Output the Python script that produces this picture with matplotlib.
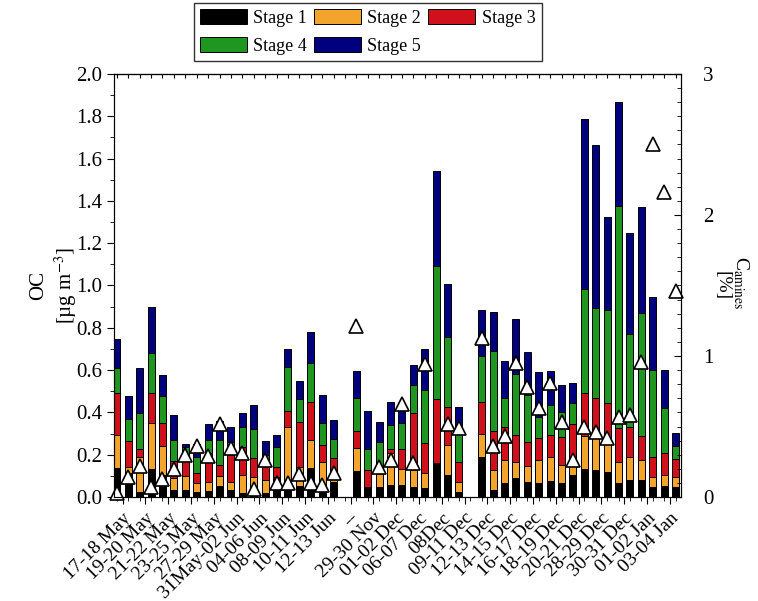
import numpy as np
import matplotlib
matplotlib.use("Agg")
import matplotlib.pyplot as plt
from matplotlib.patches import Patch

plt.rcParams['font.family'] = ['Liberation Serif', 'DejaVu Serif']
plt.rcParams['mathtext.fontset'] = 'stix'

# one label for each pair of samples
date_labels = ["17-18 May", "19-20 May", "21-22 May", "23-25 May", "27-29 May",
               "31May-02 Jun", "04-06 Jun", "08-09 Jun", "10-11 Jun", "12-13 Jun",
               "--", "29-30 Nov", "01-02 Dec", "06-07 Dec", "08Dec",
               "09-11 Dec", "12-13 Dec", "14-15 Dec", "16-17 Dec", "18-19 Dec",
               "20-21 Dec", "28-29 Dec", "30-31 Dec", "01-02 Jan", "03-04 Jan"]

# OC per stage [ug m-3], 50 sample slots (slots 20 and 31 are empty)
stage1 = [0.136, 0.112, 0.025, 0.131, 0.104, 0.033, 0.035, 0.025, 0.030, 0.050,
          0.033, 0.020, 0.015, 0.020, 0.088, 0.040, 0.050, 0.136, 0.050, 0.072,
          0.0, 0.124, 0.046, 0.049, 0.057, 0.057, 0.049, 0.044, 0.159, 0.106,
          0.025, 0.0, 0.191, 0.033, 0.065, 0.088, 0.072, 0.068, 0.076, 0.068,
          0.104, 0.131, 0.128, 0.120, 0.068, 0.080, 0.080, 0.046, 0.052, 0.046]
stage2 = [0.157, 0.031, 0.166, 0.220, 0.139, 0.057, 0.065, 0.043, 0.042, 0.050,
          0.039, 0.084, 0.081, 0.060, 0.005, 0.292, 0.093, 0.134, 0.117, 0.056,
          0.0, 0.106, 0.0, 0.061, 0.149, 0.074, 0.081, 0.069, 0.0, 0.142,
          0.047, 0.0, 0.105, 0.095, 0.110, 0.079, 0.075, 0.107, 0.112, 0.083,
          0.071, 0.157, 0.154, 0.153, 0.099, 0.111, 0.095, 0.050, 0.052, 0.050]
stage3 = [0.197, 0.122, 0.035, 0.139, 0.105, 0.080, 0.090, 0.044, 0.134, 0.050,
          0.127, 0.134, 0.087, 0.063, 0.050, 0.075, 0.212, 0.181, 0.078, 0.055,
          0.0, 0.082, 0.082, 0.030, 0.020, 0.095, 0.267, 0.141, 0.303, 0.179,
          0.095, 0.0, 0.154, 0.182, 0.157, 0.126, 0.115, 0.102, 0.105, 0.134,
          0.169, 0.202, 0.188, 0.170, 0.158, 0.141, 0.113, 0.095, 0.102, 0.084]
stage4 = [0.121, 0.102, 0.170, 0.189, 0.131, 0.100, 0.045, 0.078, 0.064, 0.120,
          0.061, 0.094, 0.137, 0.057, 0.095, 0.209, 0.108, 0.184, 0.105, 0.090,
          0.0, 0.155, 0.098, 0.120, 0.114, 0.122, 0.131, 0.252, 0.632, 0.328,
          0.134, 0.0, 0.215, 0.378, 0.135, 0.287, 0.220, 0.103, 0.142, 0.118,
          0.101, 0.492, 0.425, 0.441, 1.051, 0.439, 0.580, 0.409, 0.213, 0.061]
stage5 = [0.135, 0.112, 0.212, 0.218, 0.098, 0.118, 0.015, 0.060, 0.075, 0.090,
          0.072, 0.067, 0.117, 0.065, 0.055, 0.082, 0.086, 0.145, 0.130, 0.091,
          0.0, 0.129, 0.182, 0.093, 0.108, 0.062, 0.097, 0.196, 0.449, 0.251,
          0.123, 0.0, 0.219, 0.188, 0.176, 0.260, 0.202, 0.212, 0.161, 0.127,
          0.094, 0.804, 0.769, 0.438, 0.493, 0.476, 0.502, 0.344, 0.181, 0.063]

# C_amines [%]
c_amines = [0.03, 0.14, 0.22, 0.07, 0.13, 0.20, 0.30, 0.36, 0.29, 0.52,
            0.35, 0.31, 0.06, 0.26, 0.10, 0.10, 0.16, 0.10, 0.085, 0.17,
            np.nan, 1.21, np.nan, 0.215, 0.26, 0.66, 0.24, 0.94, np.nan, 0.52,
            0.49, np.nan, 1.13, 0.365, 0.43, 0.95, 0.78, 0.63, 0.81, 0.53,
            0.26, 0.50, 0.46, 0.42, 0.565, 0.585, 0.96, 2.50, 2.16, 1.46]

stages = [stage1, stage2, stage3, stage4, stage5]
names = ["Stage 1", "Stage 2", "Stage 3", "Stage 4", "Stage 5"]
colors = ["#000000", "#F2A42C", "#D0101A", "#1F961F", "#00007E"]

x = np.arange(len(stage1))

fig = plt.figure(figsize=(7.58, 6.01), dpi=100)
ax = fig.add_axes([0.150, 0.173, 0.748, 0.704])

bottom = np.zeros(len(x))
for vals, col in zip(stages, colors):
    vals = np.array(vals)
    ax.bar(x, vals, width=0.62, bottom=bottom, color=col,
           edgecolor="black", linewidth=0.7)
    bottom = bottom + vals

ax.set_xlim(-0.28, 49.45)
ax.set_ylim(0, 2.0)
ax.set_yticks(np.arange(0, 2.01, 0.2))
ax.set_yticks(np.arange(0, 2.0, 0.1), minor=True)
ax.yaxis.set_major_formatter(matplotlib.ticker.FormatStrFormatter("%.1f"))
ax.set_xticks(np.arange(len(date_labels)) * 2 + 0.5)
ax.set_xticklabels(date_labels, rotation=45, ha="right", rotation_mode="anchor")
ax.set_xticks(x, minor=True)
ax.tick_params(axis="y", which="major", labelsize=15, length=5, direction="out")
ax.tick_params(axis="x", which="major", labelsize=14, length=5, direction="out")
ax.tick_params(axis="both", which="minor", length=3, direction="out")
ax.tick_params(axis="x", which="both", pad=4)
ax.set_ylabel("OC\n[µg m$^{-3}$]", fontsize=15, linespacing=1.2, labelpad=-2)

ax2 = ax.twinx()
ax2.plot(x, c_amines, linestyle="none", marker="^", markersize=10.5,
         markerfacecolor="white", markeredgecolor="black", markeredgewidth=1.2,
         clip_on=False)
ax2.set_ylim(0, 3)
ax2.set_yticks([0, 1, 2, 3])
ax2.set_yticks(np.arange(0, 3.0, 0.1), minor=True)
ax2.tick_params(axis="y", which="major", labelsize=15, length=5, direction="in",
                pad=16)
ax2.tick_params(axis="y", which="minor", length=3, direction="in")

top = ax.secondary_xaxis("top")
top.set_xticks(x)
top.tick_params(direction="in", length=3, labeltop=False)

fig.text(0.978, 0.53, "C$_{\\mathrm{amines}}$", rotation=270, fontsize=14,
         ha="center", va="center")
fig.text(0.952, 0.525, "[%]", rotation=270, fontsize=14, ha="center", va="center")

order = [0, 3, 1, 4, 2]
handles = [Patch(facecolor=colors[i], edgecolor="black", linewidth=0.7) for i in order]
fig.legend(handles, [names[i] for i in order], ncol=3, loc="upper center",
           bbox_to_anchor=(0.485, 0.995), fontsize=13, frameon=True,
           fancybox=False, edgecolor="black", handlelength=2.6, handleheight=0.9,
           columnspacing=0.4, handletextpad=0.35, labelspacing=0.55,
           borderpad=0.35, borderaxespad=0.0)

fig.savefig("out.png", dpi=100)
